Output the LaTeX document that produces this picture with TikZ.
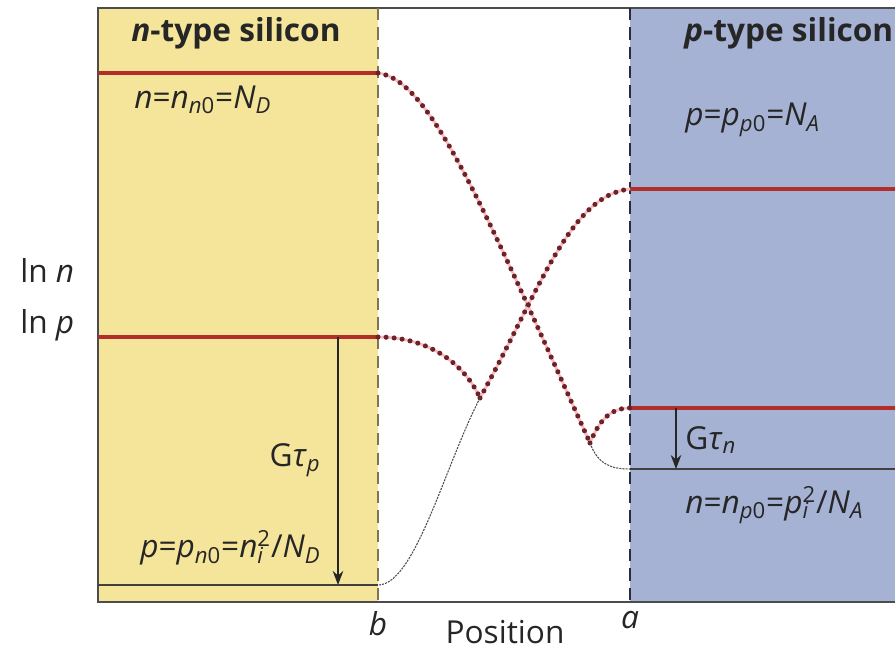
\documentclass[tikz,border=0pt]{standalone}
\usepackage{fontspec}
\setmainfont{Open Sans}
\usetikzlibrary{arrows.meta, positioning}
\definecolor{ntype}{RGB}{244,229,155}
\definecolor{ptype}{RGB}{166,178,212}
\definecolor{level}{RGB}{178,46,42}
\definecolor{dotred}{RGB}{110,34,40}
\definecolor{halo}{RGB}{244,190,195}
\definecolor{bline}{RGB}{125,118,80}
\definecolor{aline}{RGB}{40,44,66}
\newcommand{\iv}[1]{\textit{#1}}
\newcommand{\lo}[1]{\textsubscript{#1}}
\newcommand{\hi}[1]{\textsuperscript{#1}}

\begin{document}
\begin{tikzpicture}[
    x=0.02cm, y=-0.02cm,
    lbl/.style={font=\fontsize{18}{21}\selectfont, inner sep=0pt, text=black!85},
    title/.style={lbl, font=\fontsize{18}{21}\selectfont\bfseries},
    levelline/.style={draw=level, line width=2.4pt},
    darkline/.style={draw=black!75, line width=0.7pt},
    dotcurve/.style={draw=dotred, line width=2.9pt, line cap=round,
        dash pattern=on 0pt off 4.6pt,
        preaction={draw=halo, line width=1.6pt, dash pattern=on 1pt off 0pt}},
    darkcurve/.style={draw=black!70, line width=0.6pt, dash pattern=on 1.2pt off 0.6pt},
    arr/.style={-{Stealth[length=8pt, width=6pt]}, line width=1pt, black!85},
    boundary/.style={line width=1.3pt, dash pattern=on 7pt off 4pt},
]
\useasboundingbox (0,0) rectangle (895,649);
\fill[ntype] (98,8) rectangle (378,602);
\fill[ptype] (630,8) rectangle (895,602);
\draw[black!70, line width=1.2pt] (895,8) -- (98,8) -- (98,602) -- (895,602);

\coordinate (b) at (378,602);
\coordinate (a) at (630,602);
\draw[boundary, bline] (378,8) -- (b);
\draw[boundary, aline] (630,8) -- (a);

\coordinate (nn0) at (98,73);
\coordinate (nb) at (378,73);
\coordinate (pn) at (98,337);
\coordinate (pb) at (378,337);
\coordinate (pn0) at (98,585);
\coordinate (pdark) at (378,585);
\coordinate (pa) at (630,189);
\coordinate (pp0) at (895,189);
\coordinate (na) at (630,408);
\coordinate (nlight) at (895,408);
\coordinate (ndark) at (630,469);
\coordinate (np0) at (895,469);
\coordinate (cuspn) at (590,443);
\coordinate (cuspp) at (480,398);

\draw[levelline] (nn0) -- (nb);
\draw[levelline] (pn) -- (pb);
\draw[levelline] (pa) -- (pp0);
\draw[levelline] (na) -- (nlight);
\draw[darkline] (pn0) -- (pdark);
\draw[darkline] (ndark) -- (np0);

\draw[dotcurve] (nb) .. controls (430,80) and (480,200) .. (cuspn);
\draw[dotcurve] (cuspn) .. controls (600,418) and (612,408) .. (na);
\draw[dotcurve] (pb) .. controls (430,337) and (465,365) .. (cuspp);
\draw[dotcurve] (cuspp) .. controls (540,290) and (570,195) .. (pa);
\draw[darkcurve] (cuspn) .. controls (598,465) and (612,469) .. (ndark);
\draw[darkcurve] (cuspp) .. controls (445,465) and (415,585) .. (pdark);

\coordinate (gp) at (338,337);
\coordinate (gpe) at (338,585);
\coordinate (gn) at (676,408);
\coordinate (gne) at (676,469);
\draw[arr] (gp) -- (gpe);
\draw[arr] (gn) -- (gne);

\node[title] (ntitle) at (236,33) {\iv{n}-type silicon};
\node[title, anchor=west] (ptitle) at (684,33) {\iv{p}-type silicon};
\node[lbl, anchor=west] (neq) at (134,100) {\iv{n}=\iv{n}\lo{\iv{n}0}=\iv{N}\lo{\iv{D}}};
\node[lbl, anchor=west] (peq) at (685,120) {\iv{p}=\iv{p}\lo{\iv{p}0}=\iv{N}\lo{\iv{A}}};
\node[lbl, anchor=east] (gtp) at (321,460) {G\iv{τ}\lo{\iv{p}}};
\node[lbl, anchor=east] (pmin) at (321,548) {\iv{p}=\iv{p}\lo{\iv{n}0}=\iv{n}\rlap{\lo{\iv{i}}}\hi{2}/\iv{N}\lo{\iv{D}}};
\node[lbl, anchor=west] (gtn) at (685,440) {G\iv{τ}\lo{\iv{n}}};
\node[lbl, anchor=west] (nmin) at (685,505) {\iv{n}=\iv{n}\lo{\iv{p}0}=\iv{p}\rlap{\lo{\iv{i}}}\hi{2}/\iv{N}\lo{\iv{A}}};
\node[lbl, anchor=west] (lnn) at (20,270) {ln \iv{n}};
\node[lbl, anchor=west] (lnp) at (20,325) {ln \iv{p}};
\node[lbl, below=5pt of b] (blbl) {\iv{b}};
\node[lbl, below=5pt of a] (albl) {\iv{a}};
\node[lbl, anchor=base] (pos) at (505,643) {Position};
\end{tikzpicture}
\end{document}
